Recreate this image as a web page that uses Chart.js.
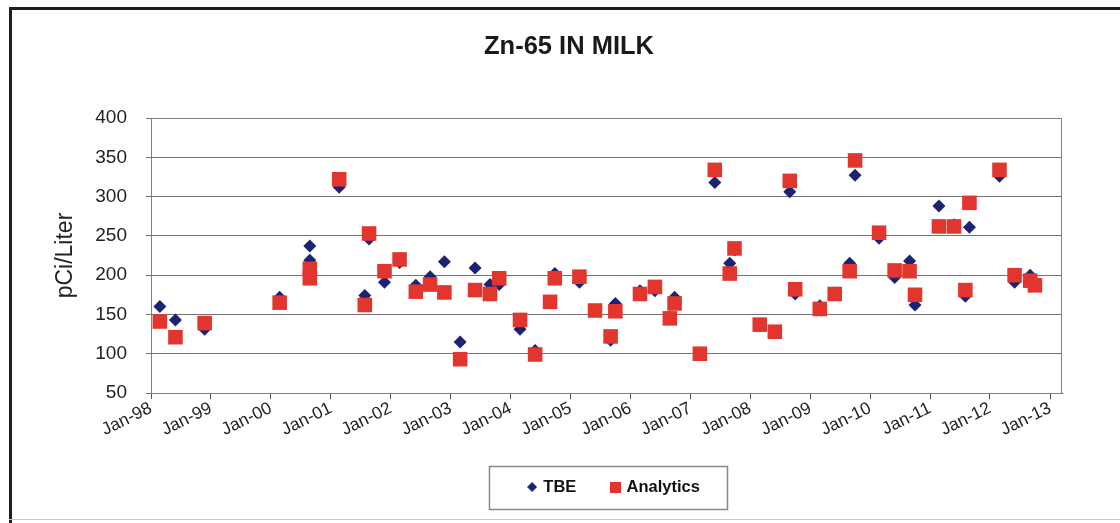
<!DOCTYPE html>
<html><head><meta charset="utf-8">
<script src="https://cdn.jsdelivr.net/npm/chart.js@4.4.1/dist/chart.umd.min.js"></script>
<style>html,body{margin:0;padding:0;background:#fff;}#wrap{width:1120px;height:523px;position:relative;}</style>
</head><body><div id="wrap"><canvas id="c" width="1120" height="523"></canvas></div>
<script>
const chartTitle = 'Zn-65 IN MILK';
const yAxisTitle = 'pCi/Liter';
const seriesNames = ['TBE', 'Analytics'];
const sampleDates = [
  '1998-02-24','1998-05-30','1998-11-24','2000-02-24','2000-08-26','2000-08-26',
  '2001-02-21','2001-07-27','2001-08-22','2001-11-24','2002-02-24','2002-06-03',
  '2002-08-29','2002-11-24','2003-02-28','2003-05-30','2003-08-29','2003-10-24',
  '2004-02-28','2004-05-30','2004-08-29','2004-09-27','2005-02-24','2005-05-30',
  '2005-09-02','2005-10-01','2006-02-28','2006-05-30','2006-08-29','2006-09-27',
  '2007-02-28','2007-05-30','2007-08-29','2007-09-27','2008-02-28','2008-05-30',
  '2008-08-29','2008-10-01','2009-02-28','2009-05-30','2009-08-29','2009-10-01',
  '2010-02-24','2010-05-30','2010-08-29','2010-10-01','2011-02-24','2011-05-27',
  '2011-08-04','2011-08-29','2012-02-28','2012-05-30','2012-09-02','2012-10-01'
];
const tbeValues = [
  160,143,131,172,237,219,
  312,174,246,191,216,187,
  198,217,115,209,188,188,
  131,104,167,202,191,155,
  117,164,180,180,147,172,
  100,318,215,232,136,128,
  306,176,161,175,215,327,
  247,197,218,162,288,264,
  173,261,326,191,200,189
];
const analyticsValues = [
  141,121,139,165,208,196,
  322,162,253,205,220,179,
  188,178,93,181,176,196,
  143,99,166,196,198,155,
  122,154,176,185,145,164,
  100,334,202,234,137,128,
  320,182,157,176,205,346,
  254,206,205,175,262,262,
  181,292,334,200,193,187
];
const xTickDates = ['1998-01-01','1999-01-01','2000-01-01','2001-01-01','2002-01-01','2003-01-01','2004-01-01','2005-01-01','2006-01-01','2007-01-01','2008-01-01','2009-01-01','2010-01-01','2011-01-01','2012-01-01','2013-01-01'];
const xTickLabels = ['Jan-98','Jan-99','Jan-00','Jan-01','Jan-02','Jan-03','Jan-04','Jan-05','Jan-06','Jan-07','Jan-08','Jan-09','Jan-10','Jan-11','Jan-12','Jan-13'];
const xRange = ['1998-01-01','2013-03-15'];
const yTickValues = [50,100,150,200,250,300,350,400];

const toDays = d => Date.parse(d + 'T00:00:00Z') / 86400000;
const tbeColor = '#1c2472';
const anaColor = '#e2352e';

function markerImg(kind, size, color) {
  const c = document.createElement('canvas');
  c.width = size; c.height = size;
  const g = c.getContext('2d');
  g.fillStyle = color;
  if (kind === 'diamond') {
    g.beginPath(); g.moveTo(size/2,0); g.lineTo(size,size/2); g.lineTo(size/2,size); g.lineTo(0,size/2); g.closePath(); g.fill();
  } else {
    g.fillRect(0,0,size,size);
  }
  return c;
}
const legendMarkers = [markerImg('diamond', 10, tbeColor), markerImg('square', 11, anaColor)];

Chart.defaults.font.family = "'Liberation Sans', Arial, sans-serif";
Chart.defaults.color = '#222';

const framePlugin = {
  id: 'frame',
  afterLayout(chart) {
    const lg = chart.legend;
    if (lg) { lg.left += 8; lg.right += 8; }
  },
  beforeDraw(chart) {
    const ctx = chart.ctx;
    ctx.save();
    ctx.fillStyle = '#fff';
    ctx.fillRect(0, 0, chart.width, chart.height);
    ctx.restore();
  },
  afterDraw(chart) {
    const ctx = chart.ctx;
    const a = chart.chartArea;
    ctx.save();
    ctx.strokeStyle = '#808080';
    ctx.lineWidth = 1;
    ctx.strokeRect(Math.round(a.left) + 0.5, Math.round(a.top) + 0.5, Math.round(a.right - a.left) - 1, Math.round(a.bottom - a.top));
    ctx.fillStyle = '#1e1e1e';
    ctx.fillRect(9, 7, chart.width - 9, 3);
    ctx.fillRect(9, 7, 3, chart.height - 7);
    ctx.fillStyle = '#c8c8c8';
    ctx.fillRect(9, 519, chart.width - 9, 1);
    const lg = chart.legend;
    if (lg && lg.legendHitBoxes && lg.legendHitBoxes.length) {
      const hb = lg.legendHitBoxes;
      let l = Infinity, r = -Infinity, cy = 0;
      hb.forEach(h => { l = Math.min(l, h.left); r = Math.max(r, h.left + h.width); cy = h.top + h.height / 2; });
      ctx.strokeStyle = '#8a8a8a';
      ctx.lineWidth = 1.5;
      ctx.strokeRect(Math.round(l - 40) + 0.5, Math.round(cy - 21.5) + 0.5, Math.round(r - l + 67), 43);
    }
    ctx.restore();
  }
};

new Chart(document.getElementById('c'), {
  type: 'scatter',
  data: {
    datasets: [
      {
        label: seriesNames[0],
        data: sampleDates.map((d, i) => ({x: toDays(d), y: tbeValues[i]})),
        pointStyle: 'rectRot', pointRadius: 6.5,
        backgroundColor: tbeColor, borderColor: tbeColor, borderWidth: 0,
        order: 2
      },
      {
        label: seriesNames[1],
        data: sampleDates.map((d, i) => ({x: toDays(d), y: analyticsValues[i]})),
        pointStyle: 'rect', pointRadius: 10.3,
        backgroundColor: anaColor, borderColor: anaColor, borderWidth: 0,
        order: 1
      }
    ]
  },
  options: {
    responsive: false,
    devicePixelRatio: 1,
    animation: false,
    events: [],
    layout: {padding: {left: 18, right: 0, top: 10, bottom: 17.75}},
    scales: {
      x: {
        type: 'linear', position: 'bottom',
        min: toDays(xRange[0]), max: toDays(xRange[1]),
        afterBuildTicks: s => { s.ticks = xTickDates.map(d => ({value: toDays(d)})); },
        afterFit: s => { s.height = 49.75; },
        ticks: {
          autoSkip: false, maxRotation: 26, minRotation: 26,
          font: {size: 17.5}, color: '#222', padding: -1,
          callback: (v, i) => xTickLabels[i]
        },
        grid: {drawOnChartArea: false, drawTicks: true, tickLength: 6, color: '#555'},
        border: {display: true, color: '#555'}
      },
      y: {
        type: 'linear', position: 'left',
        min: yTickValues[0], max: yTickValues[yTickValues.length - 1],
        afterBuildTicks: s => { s.ticks = yTickValues.map(v => ({value: v})); },
        afterFit: s => { s.width = 133; },
        ticks: {font: {size: 19}, color: '#222', padding: 19},
        grid: {color: '#737373', tickLength: 5, drawTicks: true},
        border: {display: true, color: '#555'},
        title: {display: true, text: yAxisTitle, font: {size: 23}, color: '#222', padding: {top: 34, bottom: 0}}
      },
      y2: {
        type: 'linear', position: 'right', display: true,
        grid: {display: false}, ticks: {display: false}, border: {display: false},
        afterFit: s => { s.width = 58; }
      }
    },
    plugins: {
      tooltip: {enabled: false},
      title: {
        display: true, text: chartTitle,
        font: {size: 25.5, weight: 'bold'}, color: '#1a1a1a',
        padding: {top: 21.7, bottom: 55.7}
      },
      legend: {
        display: true, position: 'bottom', fullSize: false, reverse: true,
        labels: {
          usePointStyle: true, boxWidth: 6, boxHeight: 12, padding: 36,
          font: {size: 16.5, weight: 'bold'}, color: '#111',
          generateLabels: chart => Chart.defaults.plugins.legend.labels.generateLabels(chart).map(item => {
            item.pointStyle = legendMarkers[item.datasetIndex];
            return item;
          })
        }
      }
    }
  },
  plugins: [framePlugin]
});
</script></body></html>
